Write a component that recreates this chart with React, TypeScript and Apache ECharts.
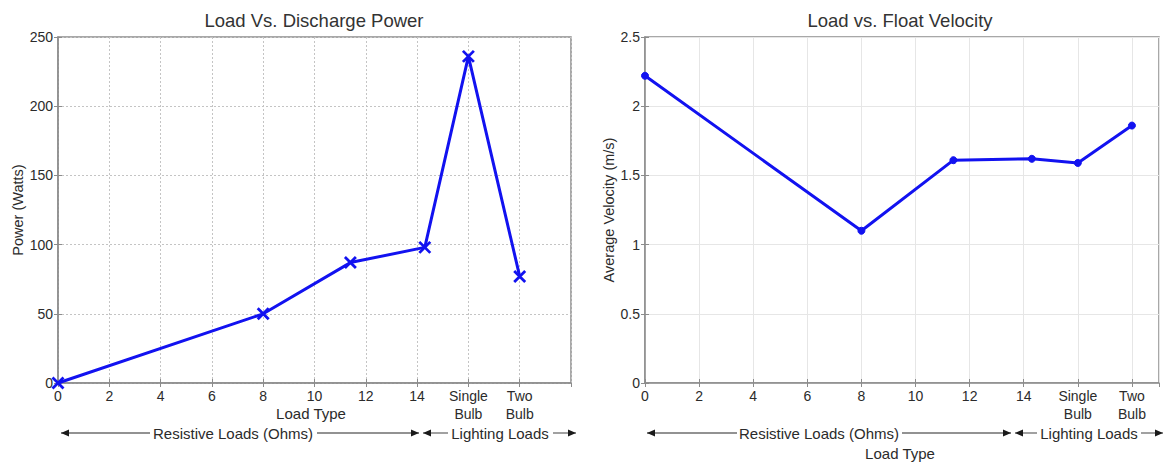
import React, { useEffect, useRef } from "react";
import * as echarts from "echarts";

// Load settings: resistive loads in ohms, then the two lighting loads placed at 16 and 18
const loadX = [0, 8, 11.4, 14.3, 16, 18];
const powerWatts = [0, 50, 87, 98, 236, 77];
const velocityMs = [2.22, 1.1, 1.61, 1.62, 1.59, 1.86];

const xTickValues = [0, 2, 4, 6, 8, 10, 12, 14, 16, 18];
const xTickLabels = ["0", "2", "4", "6", "8", "10", "12", "14", "Single\nBulb", "Two\nBulb"];

const FONT = "'Liberation Sans', Arial, sans-serif";
const LINE_BLUE = "#1212f0";
const TEXT = "#2b2b2b";
const FRAME = "#8c8c8c";

const xLabel = (v: number) => {
  const i = xTickValues.indexOf(Math.round(v * 100) / 100);
  return i >= 0 ? xTickLabels[i] : "";
};

function arrowRow(
  y: number,
  x0: number,
  xMid: number,
  x1: number,
  t1: [number, number, number],
  t2: [number, number, number],
  label1: string,
  label2: string
) {
  const lineStyle = { stroke: "#6e6e6e", lineWidth: 1.3 };
  const head = (x: number, dir: number) => ({
    type: "polygon",
    shape: { points: [[x, y], [x - dir * 8, y - 3.5], [x - dir * 8, y + 3.5]] },
    style: { fill: "#1a1a1a" },
  });
  const label = (x: number, text: string) => ({
    type: "text",
    x,
    y,
    style: { text, fill: TEXT, font: `15px ${FONT}`, textAlign: "center", textVerticalAlign: "middle" },
  });
  return [
    { type: "line", shape: { x1: x0, y1: y, x2: t1[0], y2: y }, style: lineStyle },
    { type: "line", shape: { x1: t1[1], y1: y, x2: xMid - 2, y2: y }, style: lineStyle },
    { type: "line", shape: { x1: xMid + 2, y1: y, x2: t2[0], y2: y }, style: lineStyle },
    { type: "line", shape: { x1: t2[1], y1: y, x2: x1, y2: y }, style: lineStyle },
    head(x0, -1),
    head(xMid - 2, 1),
    head(xMid + 2, -1),
    head(x1, 1),
    label(t1[2], label1),
    label(t2[2], label2),
  ];
}

export default function App() {
  const ref = useRef<HTMLDivElement>(null);

  useEffect(() => {
    if (!ref.current) return;
    const chart = echarts.init(ref.current, undefined, { renderer: "svg" });

    const gridBase = { show: true, borderColor: FRAME, borderWidth: 1.5, backgroundColor: "#fff" };

    const mainX = (gridIndex: number, max: number, dotted: boolean) => ({
      type: "value",
      gridIndex,
      min: 0,
      max,
      interval: 2,
      position: "bottom",
      axisLine: { show: true, lineStyle: { color: FRAME, width: 1.5 } },
      axisTick: { show: true, inside: true, length: 4, lineStyle: { color: FRAME } },
      axisLabel: {
        formatter: xLabel,
        color: TEXT,
        fontSize: 14,
        fontFamily: FONT,
        margin: 4,
        lineHeight: 18,
        showMaxLabel: false,
      },
      splitLine: {
        show: true,
        lineStyle: { color: dotted ? "#c4c4c4" : "#e6e6e6", type: dotted ? [2, 2] : "solid", width: 1 },
      },
    });
    const topX = (gridIndex: number, max: number) => ({
      type: "value",
      gridIndex,
      min: 0,
      max,
      interval: 2,
      position: "top",
      axisLine: { show: false },
      axisTick: { show: true, inside: true, length: 4, lineStyle: { color: FRAME } },
      axisLabel: { show: false },
      splitLine: { show: false },
    });
    const mainY = (gridIndex: number, max: number, step: number, name: string, gap: number, dotted: boolean) => ({
      type: "value",
      gridIndex,
      min: 0,
      max,
      interval: step,
      position: "left",
      name,
      nameLocation: "middle",
      nameGap: gap,
      nameRotate: 90,
      nameTextStyle: { color: TEXT, fontSize: 14.5, fontFamily: FONT },
      axisLine: { show: true, lineStyle: { color: FRAME, width: 1.5 } },
      axisTick: { show: true, inside: true, length: 4, lineStyle: { color: FRAME } },
      axisLabel: { color: TEXT, fontSize: 14, fontFamily: FONT, margin: 5 },
      splitLine: {
        show: true,
        lineStyle: { color: dotted ? "#c4c4c4" : "#e6e6e6", type: dotted ? [2, 2] : "solid", width: 1 },
      },
    });
    const rightY = (gridIndex: number, max: number, step: number) => ({
      type: "value",
      gridIndex,
      min: 0,
      max,
      interval: step,
      position: "right",
      axisLine: { show: false },
      axisTick: { show: true, inside: true, length: 4, lineStyle: { color: FRAME } },
      axisLabel: { show: false },
      splitLine: { show: false },
    });

    const title = (x: number, text: string) => ({
      type: "text",
      x,
      y: 20,
      style: { text, fill: "#333", font: `18.5px ${FONT}`, textAlign: "center", textVerticalAlign: "middle" },
    });
    const axisTitle = (x: number, y: number, text: string) => ({
      type: "text",
      x,
      y,
      style: { text, fill: TEXT, font: `15px ${FONT}`, textAlign: "center", textVerticalAlign: "middle" },
    });

    chart.setOption({
      animation: false,
      backgroundColor: "#fff",
      grid: [
        { ...gridBase, left: 58, top: 37, width: 513, height: 346 },
        { ...gridBase, left: 645, top: 37, width: 514, height: 346 },
      ],
      xAxis: [mainX(0, 20, true), topX(0, 20), mainX(1, 19, false), topX(1, 19)],
      yAxis: [
        mainY(0, 250, 50, "Power (Watts)", 32, true),
        rightY(0, 250, 50),
        mainY(1, 2.5, 0.5, "Average Velocity (m/s)", 29, false),
        rightY(1, 2.5, 0.5),
      ],
      series: [
        {
          type: "line",
          xAxisIndex: 0,
          yAxisIndex: 0,
          data: loadX.map((x, i) => [x, powerWatts[i]]),
          lineStyle: { color: LINE_BLUE, width: 3 },
          symbol: "path://M0,0L10,10M10,0L0,10",
          symbolSize: 11,
          itemStyle: { color: "transparent", borderColor: LINE_BLUE, borderWidth: 2.8 },
          z: 5,
        },
        {
          type: "line",
          xAxisIndex: 2,
          yAxisIndex: 2,
          data: loadX.map((x, i) => [x, velocityMs[i]]),
          lineStyle: { color: LINE_BLUE, width: 3 },
          symbol: "circle",
          symbolSize: 7,
          itemStyle: { color: LINE_BLUE, borderColor: LINE_BLUE, borderWidth: 1 },
          z: 5,
        },
      ],
      graphic: [
        title(314, "Load Vs. Discharge Power"),
        title(900, "Load vs. Float Velocity"),
        axisTitle(311, 413, "Load Type"),
        axisTitle(900, 453, "Load Type"),
        ...arrowRow(433, 61, 421, 576, [150, 317, 233], [448, 553, 500], "Resistive Loads (Ohms)", "Lighting Loads"),
        ...arrowRow(433, 647, 1013, 1163, [737, 902, 819], [1037, 1141, 1089], "Resistive Loads (Ohms)", "Lighting Loads"),
      ],
    });

    return () => chart.dispose();
  }, []);

  return (
    <div
      ref={ref}
      style={{ position: "fixed", left: 0, top: 0, width: 1163, height: 462, background: "#fff" }}
    />
  );
}
